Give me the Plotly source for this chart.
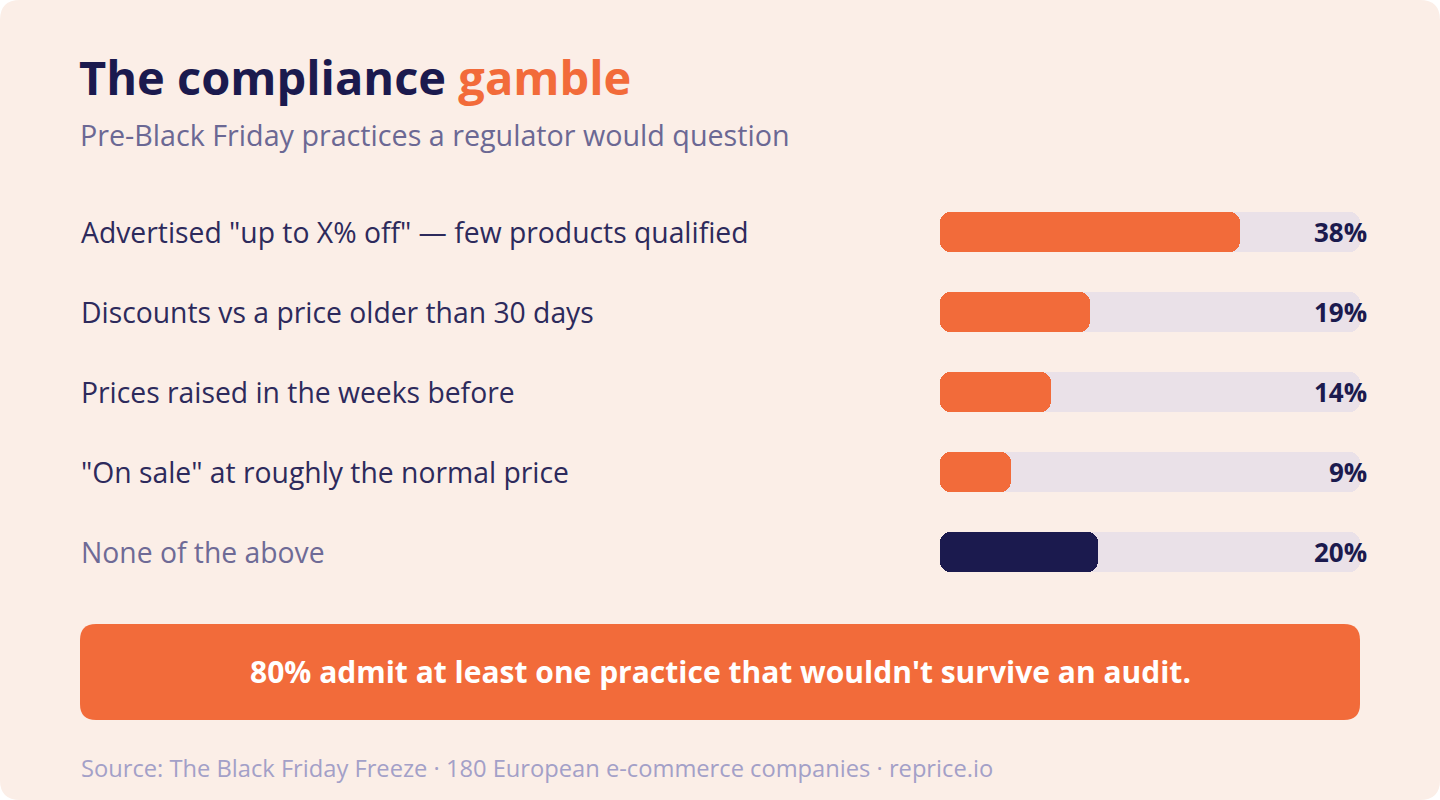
import plotly.graph_objects as go

# survey results, top row first
practices = [
    'Advertised "up to X% off" — few products qualified',
    'Discounts vs a price older than 30 days',
    'Prices raised in the weeks before',
    '"On sale" at roughly the normal price',
    'None of the above',
]
shares = [38, 19, 14, 9, 20]
bar_colors = ['#F26B3A', '#F26B3A', '#F26B3A', '#F26B3A', '#1B1A4E']
label_colors = ['#2D2A5C', '#2D2A5C', '#2D2A5C', '#2D2A5C', '#6E6A96']

title_main = 'The compliance'
title_accent = 'gamble'
subtitle = 'Pre-Black Friday practices a regulator would question'
callout = "80% admit at least one practice that wouldn't survive an audit."
source = 'Source: The Black Friday Freeze · 180 European e-commerce companies · reprice.io'

W, H = 1440, 800
FONT = 'Open Sans'
BG = '#FBEEE7'
NAVY = '#1B1A4E'
ORANGE = '#F26B3A'
TRACK = '#EAE1E8'

# longest bar fills about 70% of the grey track
track_max = max(shares) * 1.4


def px(x):
    return x / W


def py(y):
    # pixel from top -> paper coords
    return 1 - y / H


def rounded_rect(x0, y0, x1, y1, r):
    """svg path for a rounded box, pixel coords in, paper coords out"""
    rx, ry = r / W, r / H
    a, b = px(x0), px(x1)
    top, bot = py(y0), py(y1)
    return (f'M {a + rx},{top} L {b - rx},{top} Q {b},{top} {b},{top - ry} '
            f'L {b},{bot + ry} Q {b},{bot} {b - rx},{bot} '
            f'L {a + rx},{bot} Q {a},{bot} {a},{bot + ry} '
            f'L {a},{top - ry} Q {a},{top} {a + rx},{top} Z')


def pill(values, colors):
    """rounded on both ends: one piece grows left towards 0, the other grows
    right to the value, and they overlap in the middle so no seam shows"""
    common = dict(y=practices, orientation='h', width=0.5,
                  marker=dict(color=colors, cornerradius=10, line=dict(width=0)),
                  showlegend=False)
    left = go.Bar(base=[v * 0.7 for v in values], x=[-v * 0.7 for v in values],
                  hoverinfo='skip', **common)
    right = go.Bar(base=[v * 0.3 for v in values], x=[v * 0.7 for v in values],
                   hoverinfo='skip', **common)
    return [left, right]


fig = go.Figure()
for tr in pill([track_max] * len(practices), TRACK):
    fig.add_trace(tr)
for tr in pill(shares, bar_colors):
    fig.add_trace(tr)

annotations = []
for name, val, col in zip(practices, shares, label_colors):
    annotations.append(dict(
        x=px(79), y=name, xref='paper', yref='y', xanchor='left', yanchor='middle',
        text=name, showarrow=False, font=dict(family=FONT, size=28.3, color=col),
    ))
    annotations.append(dict(
        x=px(1369), y=name, xref='paper', yref='y', xanchor='right', yanchor='middle',
        text=f'<b>{val}%</b>', showarrow=False, font=dict(family=FONT, size=26, color=NAVY),
    ))

annotations += [
    dict(x=px(77), y=py(77), xref='paper', yref='paper', xanchor='left', yanchor='middle',
         text=f'<b>{title_main} <span style="color:{ORANGE}">{title_accent}</span></b>',
         showarrow=False, font=dict(family=FONT, size=47, color=NAVY)),
    dict(x=px(78), y=py(134), xref='paper', yref='paper', xanchor='left', yanchor='middle',
         text=subtitle, showarrow=False, font=dict(family=FONT, size=28.7, color='#6B6894')),
    dict(x=0.5, y=py(671), xref='paper', yref='paper', xanchor='center', yanchor='middle',
         text=f'<b>{callout}</b>', showarrow=False, font=dict(family=FONT, size=30, color='white')),
    dict(x=px(79), y=py(768), xref='paper', yref='paper', xanchor='left', yanchor='middle',
         text=source, showarrow=False, font=dict(family=FONT, size=23.7, color='#A3A0C8')),
]

shapes = [
    dict(type='path', path=rounded_rect(0, 0, W, H, 20), xref='paper', yref='paper',
         fillcolor=BG, line=dict(width=0), layer='below'),
    dict(type='path', path=rounded_rect(80, 624, 1360, 720, 16), xref='paper', yref='paper',
         fillcolor=ORANGE, line=dict(width=0), layer='below'),
]

fig.update_layout(
    width=W, height=H,
    margin=dict(l=0, r=0, t=0, b=0),
    paper_bgcolor='white', plot_bgcolor='rgba(0,0,0,0)',
    barmode='overlay', bargap=0,
    xaxis=dict(domain=[px(940), px(1360)], range=[0, track_max], visible=False, fixedrange=True),
    yaxis=dict(domain=[py(592), py(192)], range=[4.5, -0.5], visible=False, fixedrange=True,
               categoryorder='array', categoryarray=practices),
    annotations=annotations,
    shapes=shapes,
)

fig.write_html('out.html', config={'displayModeBar': False},
               post_script="document.body.style.margin='0';")
